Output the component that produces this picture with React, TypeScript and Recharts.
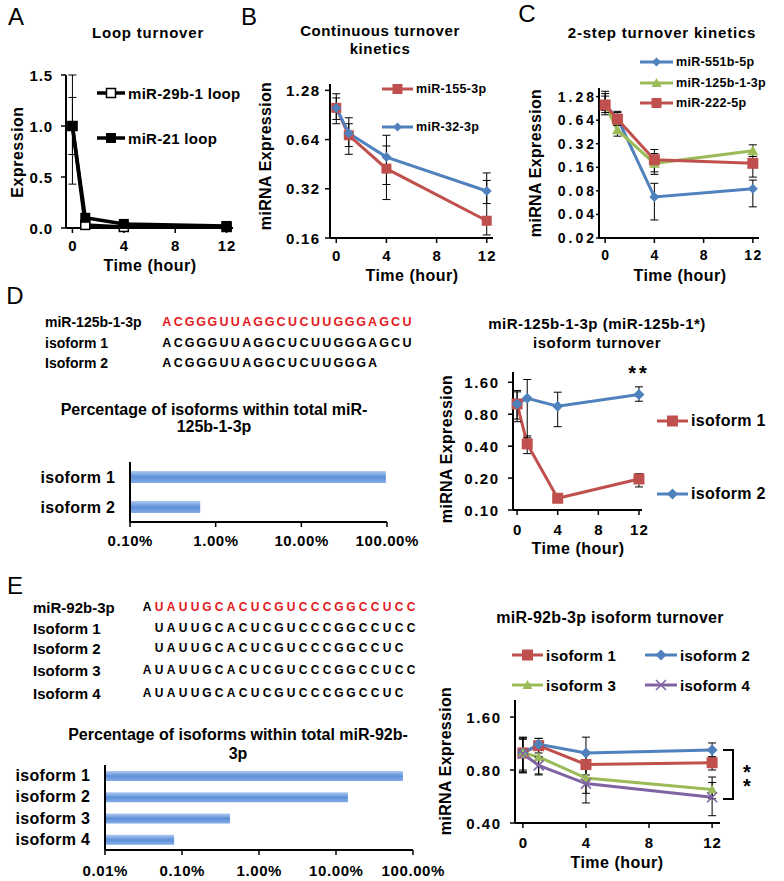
import React from 'react';
import { LineChart, Line, XAxis, YAxis, ErrorBar, BarChart, Bar } from 'recharts';

const FONT = '"Liberation Sans", Arial, Helvetica, sans-serif';
const RED = '#C0504D';
const BLUE = '#4F81BD';
const GREEN = '#9BBB59';
const PURPLE = '#8064A2';
const SEQ_RED = '#E3191C';

const TIME_H = [0, 1, 4, 12];
const TIME_TICKS = [0, 4, 8, 12];

// Panel A
const A_Y_TICKS = [0, 0.5, 1.0, 1.5];
const A_29B = [1.0, 0.03, 0.01, 0.01];
const A_29B_LO = [0.72, 0.01, 0.0, 0.0];
const A_29B_HI = [1.28, 0.05, 0.02, 0.02];
const A_21 = [1.0, 0.1, 0.04, 0.02];
const A_21_LO = [0.43, 0.07, 0.03, 0.01];
const A_21_HI = [1.5, 0.13, 0.05, 0.03];

// Panel B
const B_Y_TICKS = [0.16, 0.32, 0.64, 1.28];
const B_155 = [1.0, 0.68, 0.425, 0.204];
const B_155_LO = [0.8, 0.52, 0.275, 0.167];
const B_155_HI = [1.15, 0.8, 0.585, 0.36];
const B_32 = [1.0, 0.7, 0.5, 0.31];
const B_32_LO = [0.85, 0.58, 0.34, 0.26];
const B_32_HI = [1.22, 0.87, 0.68, 0.4];

// Panel C
const C_Y_TICKS = [0.02, 0.04, 0.08, 0.16, 0.32, 0.64, 1.28];
const C_551 = [1.0, 0.68, 0.067, 0.085];
const C_551_LO = [0.75, 0.55, 0.034, 0.05];
const C_551_HI = [1.5, 0.83, 0.1, 0.11];
const C_125 = [1.0, 0.48, 0.18, 0.26];
const C_125_LO = [0.85, 0.4, 0.13, 0.22];
const C_125_HI = [1.3, 0.58, 0.24, 0.31];
const C_222 = [1.0, 0.66, 0.2, 0.18];
const C_222_LO = [0.8, 0.55, 0.14, 0.12];
const C_222_HI = [1.4, 0.8, 0.27, 0.22];

// Panel D line
const D_Y_TICKS = [0.1, 0.2, 0.4, 0.8, 1.6];
const D_ISO1 = [1.0, 0.42, 0.129, 0.196];
const D_ISO1_LO = [0.72, 0.34, 0.12, 0.165];
const D_ISO1_HI = [1.3, 0.5, 0.14, 0.22];
const D_ISO2 = [1.0, 1.13, 0.95, 1.23];
const D_ISO2_LO = [0.68, 0.48, 0.61, 1.06];
const D_ISO2_HI = [1.34, 1.7, 1.29, 1.45];

// Panel E line
const E_Y_TICKS = [0.4, 0.8, 1.6];
const E_ISO1 = [1.0, 1.1, 0.86, 0.88];
const E_ISO1_LO = [0.78, 0.95, 0.75, 0.8];
const E_ISO1_HI = [1.22, 1.21, 1.0, 0.95];
const E_ISO2 = [1.0, 1.12, 1.0, 1.04];
const E_ISO2_LO = [0.8, 1.0, 0.85, 0.95];
const E_ISO2_HI = [1.23, 1.21, 1.23, 1.14];
const E_ISO3 = [1.0, 0.95, 0.72, 0.62];
const E_ISO3_LO = [0.78, 0.76, 0.59, 0.55];
const E_ISO3_HI = [1.2, 1.1, 0.85, 0.73];
const E_ISO4 = [0.99, 0.85, 0.67, 0.56];
const E_ISO4_LO = [0.77, 0.75, 0.52, 0.44];
const E_ISO4_HI = [1.2, 0.95, 0.85, 0.68];

// Bars
const D_BAR_CATS = ['isoform 1', 'isoform 2'];
const D_BAR_PCT = [97, 0.66];
const D_BAR_TICKS = [0.1, 1, 10, 100];
const E_BAR_CATS = ['isoform 1', 'isoform 2', 'isoform 3', 'isoform 4'];
const E_BAR_PCT = [74, 14.3, 0.42, 0.079];
const E_BAR_TICKS = [0.01, 0.1, 1, 10, 100];

// Sequences
const D_SEQ_LABELS = ['miR-125b-1-3p', 'isoform 1', 'Isoform 2'];
const D_SEQS = ['ACGGGUUAGGCUCUUGGGAGCU', 'ACGGGUUAGGCUCUUGGGAGCU', 'ACGGGUUAGGCUCUUGGGA'];
const E_SEQ_LABELS = ['miR-92b-3p', 'Isoform 1', 'Isoform 2', 'Isoform 3', 'Isoform 4'];
const E_SEQS = [
  'AUAUUGCACUCGUCCCGGCCUCC',
  ' UAUUGCACUCGUCCCGGCCUCC',
  ' UAUUGCACUCGUCCCGGCCUC',
  'AUAUUGCACUCGUCCCGGCCUCC',
  'AUAUUGCACUCGUCCCGGCCUC',
];

type Series = {
  key: string; label: string; values: number[]; lo: number[]; hi: number[];
  color: string; marker: string; size: number; width: number;
};

function buildRows(series: Series[]) {
  return TIME_H.map((t, i) => {
    const row: any = { t };
    series.forEach((s) => {
      row[s.key] = s.values[i];
      row[s.key + 'Err'] = [s.values[i] - s.lo[i], s.hi[i] - s.values[i]];
    });
    return row;
  });
}

function Marker({ type, cx, cy, color, size }: any) {
  if (cx == null || cy == null) return null;
  const h = size / 2;
  switch (type) {
    case 'square':
      return <rect x={cx - h} y={cy - h} width={size} height={size} fill={color} />;
    case 'osquare':
      return <rect x={cx - h} y={cy - h} width={size} height={size} fill="#fff" stroke={color} strokeWidth={1.5} />;
    case 'diamond':
      return <polygon points={`${cx},${cy - h} ${cx + h},${cy} ${cx},${cy + h} ${cx - h},${cy}`} fill={color} />;
    case 'triangle':
      return <polygon points={`${cx},${cy - h} ${cx + h},${cy + h * 0.8} ${cx - h},${cy + h * 0.8}`} fill={color} />;
    case 'x':
      return (
        <g stroke={color} strokeWidth={1.6}>
          <line x1={cx - h} y1={cy - h} x2={cx + h} y2={cy + h} />
          <line x1={cx - h} y1={cy + h} x2={cx + h} y2={cy - h} />
        </g>
      );
    default:
      return null;
  }
}

const yTick = (fmt: (v: any) => string, fs: number, ls: number) => (p: any) => (
  <text x={p.x + ls} y={p.y} textAnchor="end" dominantBaseline="central" fontSize={fs} fontWeight="bold"
    fontFamily={FONT} letterSpacing={ls} fill="#000">{fmt(p.payload.value)}</text>
);
const xTick = (fmt: (v: any) => string, fs: number, ls: number) => (p: any) => (
  <text x={p.x + ls / 2} y={p.y} dy={fs * 0.72} textAnchor="middle" fontSize={fs} fontWeight="bold"
    fontFamily={FONT} letterSpacing={ls} fill="#000">{fmt(p.payload.value)}</text>
);
const noTick = () => <g />;

const AX = { stroke: '#000', strokeWidth: 2 };
const TL = { stroke: '#000', strokeWidth: 1.5 };

function TurnoverChart(props: any) {
  const { box, series, yScale, yDomain, yTicks, yFmt, xDomain, yGap, xGap, fs, ls, lsX, tickSize = 5 } = props;
  const YW = 70, MT = 14, MR = 14, XH = 40;
  const rows = buildRows(series);
  return (
    <div style={{ position: 'absolute', left: box.x - YW, top: box.y - MT }}>
      <LineChart width={YW + box.w + MR} height={MT + box.h + XH} data={rows}
        margin={{ top: MT, right: MR, left: 0, bottom: 0 }}>
        <XAxis type="number" dataKey="t" domain={xDomain} ticks={TIME_TICKS} interval={0} height={XH}
          axisLine={AX} tickLine={TL} tickSize={5} tickMargin={xGap - 5}
          tick={xTick((v) => String(v), fs, lsX)} />
        <YAxis type="number" scale={yScale} domain={yDomain} ticks={yTicks} interval={0} width={YW}
          axisLine={AX} tickLine={TL} tickSize={tickSize} tickMargin={yGap - tickSize}
          tick={yTick(yFmt, fs, ls)} />
        {series.map((s: Series) => (
          <Line key={s.key} type="linear" dataKey={s.key} stroke={s.color} strokeWidth={s.width}
            isAnimationActive={false} activeDot={false}
            dot={(p: any) => (
              <Marker key={`${s.key}-${p.index}`} type={s.marker} cx={p.cx} cy={p.cy} color={s.color} size={s.size} />
            )}>
            <ErrorBar dataKey={s.key + 'Err'} direction="y" width={4} stroke="#000" strokeWidth={1} />
          </Line>
        ))}
      </LineChart>
    </div>
  );
}

function PctBarChart(props: any) {
  const { box, cats, values, domain, ticks, barSize, labelGap, gradId, catFs, xGap } = props;
  const YW = 130, MT = 4, MR = 40, XH = 40;
  const rows = cats.map((c: string, i: number) => ({ name: c, pct: values[i] }));
  const bounds = Array.from({ length: cats.length + 1 }, (_, i) => i);
  return (
    <div style={{ position: 'absolute', left: box.x - YW, top: box.y - MT }}>
      <BarChart layout="vertical" width={YW + box.w + MR} height={MT + box.h + XH} data={rows}
        margin={{ top: MT, right: MR, left: 0, bottom: 0 }}>
        <defs>
          <linearGradient id={gradId} x1="0" y1="0" x2="0" y2="1">
            <stop offset="0%" stopColor="#AFCBF0" />
            <stop offset="50%" stopColor="#5E90DA" />
            <stop offset="100%" stopColor="#84ACE8" />
          </linearGradient>
        </defs>
        <XAxis type="number" scale="log" domain={domain} ticks={ticks} interval={0} height={XH}
          axisLine={AX} tickLine={TL} tickSize={5} tickMargin={xGap - 5}
          tick={xTick((v) => Number(v).toFixed(2) + '%', 15, 0.6)} />
        <YAxis type="category" dataKey="name" width={YW} axisLine={AX} tickLine={false} tickSize={0} interval={0}
          tickMargin={labelGap} tick={yTick((v) => String(v), catFs, 0.3)} />
        <YAxis yAxisId="bounds" type="number" domain={[0, cats.length]} ticks={bounds} interval={0} width={0}
          orientation="left" mirror axisLine={false} tickLine={TL} tickSize={-5} tick={noTick} />
        <Bar dataKey="pct" barSize={barSize} fill={`url(#${gradId})`} isAnimationActive={false} />
      </BarChart>
    </div>
  );
}

function Txt({ x, y, size = 15, bold = true, anchor = 'middle', rotate = 0, ls = 0, color = '#000', lh = 1, children }: any) {
  const tx = anchor === 'middle' ? '-50%' : anchor === 'end' ? '-100%' : '0';
  return (
    <div style={{
      position: 'absolute', left: x, top: y, whiteSpace: 'pre', lineHeight: lh, textAlign: 'center',
      transform: `translate(${tx},-50%)${rotate ? ` rotate(${rotate}deg)` : ''}`,
      fontSize: size, fontWeight: bold ? 'bold' : 'normal', fontFamily: FONT, letterSpacing: ls, color,
    }}>{children}</div>
  );
}

function LegendItem({ x, y, w, color, marker, msize, lw, label, fs }: any) {
  return (
    <div style={{ position: 'absolute', left: x, top: y, transform: 'translateY(-50%)', display: 'flex', alignItems: 'center', whiteSpace: 'nowrap' }}>
      <svg width={w} height={16} style={{ display: 'block', overflow: 'visible' }}>
        <line x1={0} y1={8} x2={w} y2={8} stroke={color} strokeWidth={lw} />
        <Marker type={marker} cx={w / 2} cy={8} color={color} size={msize} />
      </svg>
      <span style={{ marginLeft: 3, fontSize: fs, fontWeight: 'bold', fontFamily: FONT, lineHeight: 1, letterSpacing: 0.3 }}>{label}</span>
    </div>
  );
}

function Seq({ x, y, text, cell, size, redFrom, redAll }: any) {
  return (
    <div style={{ position: 'absolute', left: x, top: y, transform: 'translateY(-50%)', display: 'flex', fontFamily: FONT, fontSize: size, fontWeight: 'bold', lineHeight: 1 }}>
      {text.split('').map((c: string, i: number) => (
        <span key={i} style={{
          display: 'inline-block', width: cell, textAlign: 'center',
          color: redAll || (redFrom != null && i >= redFrom) ? SEQ_RED : '#000',
        }}>{c === ' ' ? '\u00a0' : c}</span>
      ))}
    </div>
  );
}

const fmt1 = (v: any) => Number(v).toFixed(1);
const fmt2 = (v: any) => Number(v).toFixed(2);

const A_SERIES: Series[] = [
  { key: 'l29b', label: 'miR-29b-1 loop', values: A_29B, lo: A_29B_LO, hi: A_29B_HI, color: '#000', marker: 'osquare', size: 9, width: 3.5 },
  { key: 'l21', label: 'miR-21 loop', values: A_21, lo: A_21_LO, hi: A_21_HI, color: '#000', marker: 'square', size: 10, width: 3.5 },
];
const B_SERIES: Series[] = [
  { key: 'm155', label: 'miR-155-3p', values: B_155, lo: B_155_LO, hi: B_155_HI, color: RED, marker: 'square', size: 10, width: 3 },
  { key: 'm32', label: 'miR-32-3p', values: B_32, lo: B_32_LO, hi: B_32_HI, color: BLUE, marker: 'diamond', size: 10, width: 3 },
];
const C_SERIES: Series[] = [
  { key: 'm551', label: 'miR-551b-5p', values: C_551, lo: C_551_LO, hi: C_551_HI, color: BLUE, marker: 'diamond', size: 10, width: 3 },
  { key: 'm125', label: 'miR-125b-1-3p', values: C_125, lo: C_125_LO, hi: C_125_HI, color: GREEN, marker: 'triangle', size: 11, width: 3 },
  { key: 'm222', label: 'miR-222-5p', values: C_222, lo: C_222_LO, hi: C_222_HI, color: RED, marker: 'square', size: 11, width: 3 },
];
const D_SERIES: Series[] = [
  { key: 'i1', label: 'isoform 1', values: D_ISO1, lo: D_ISO1_LO, hi: D_ISO1_HI, color: RED, marker: 'square', size: 11, width: 3 },
  { key: 'i2', label: 'isoform 2', values: D_ISO2, lo: D_ISO2_LO, hi: D_ISO2_HI, color: BLUE, marker: 'diamond', size: 11, width: 3 },
];
const E_SERIES: Series[] = [
  { key: 'i1', label: 'isoform 1', values: E_ISO1, lo: E_ISO1_LO, hi: E_ISO1_HI, color: RED, marker: 'square', size: 11, width: 3 },
  { key: 'i2', label: 'isoform 2', values: E_ISO2, lo: E_ISO2_LO, hi: E_ISO2_HI, color: BLUE, marker: 'diamond', size: 11, width: 3 },
  { key: 'i3', label: 'isoform 3', values: E_ISO3, lo: E_ISO3_LO, hi: E_ISO3_HI, color: GREEN, marker: 'triangle', size: 10, width: 3 },
  { key: 'i4', label: 'isoform 4', values: E_ISO4, lo: E_ISO4_LO, hi: E_ISO4_HI, color: PURPLE, marker: 'x', size: 10, width: 3 },
];

export default function App() {
  return (
    <div style={{ position: 'absolute', left: 0, top: 0, width: 784, height: 881, background: '#fff', overflow: 'hidden', fontFamily: FONT }}>
      {/* Panel letters */}
      <Txt x={16} y={17} size={24} bold={false}>A</Txt>
      <Txt x={249} y={17} size={24} bold={false}>B</Txt>
      <Txt x={527} y={14} size={24} bold={false}>C</Txt>
      <Txt x={15} y={296} size={24} bold={false}>D</Txt>
      <Txt x={15} y={586} size={24} bold={false}>E</Txt>

      {/* Panel A */}
      <Txt x={148} y={32} size={15} ls={0.8}>Loop turnover</Txt>
      <TurnoverChart box={{ x: 66, y: 75, w: 167, h: 153 }} series={A_SERIES} yScale="linear" yDomain={[0, 1.5]}
        yTicks={A_Y_TICKS} yFmt={fmt1} xDomain={[-0.5, 12.5]} yGap={14} xGap={12} fs={15} ls={0.8} lsX={0.8} />
      <Txt x={18} y={152} size={16} rotate={-90} ls={0.5}>Expression</Txt>
      <Txt x={150} y={266} size={16} ls={0.5}>Time (hour)</Txt>
      <LegendItem x={97} y={93} w={28} color="#000" marker="osquare" msize={9} lw={3.5} label={A_SERIES[0].label} fs={15} />
      <LegendItem x={97} y={138} w={28} color="#000" marker="square" msize={10} lw={3.5} label={A_SERIES[1].label} fs={15} />

      {/* Panel B */}
      <Txt x={380} y={30} size={15} ls={0.6}>Continuous turnover</Txt>
      <Txt x={380} y={48} size={15} ls={0.6}>kinetics</Txt>
      <TurnoverChart box={{ x: 330, y: 84, w: 163, h: 154 }} series={B_SERIES} yScale="log" yDomain={[0.16, 1.4]}
        yTicks={B_Y_TICKS} yFmt={fmt2} xDomain={[-0.5, 12.5]} yGap={11} xGap={12} fs={15} ls={1.3} lsX={1.3} />
      <Txt x={266} y={156} size={16} rotate={-90} ls={0.3}>miRNA Expression</Txt>
      <Txt x={412} y={276} size={16} ls={0.5}>Time (hour)</Txt>
      <LegendItem x={382} y={89} w={31} color={RED} marker="square" msize={10} lw={3} label={B_SERIES[0].label} fs={12.5} />
      <LegendItem x={382} y={127} w={31} color={BLUE} marker="diamond" msize={9} lw={3} label={B_SERIES[1].label} fs={12.5} />

      {/* Panel C */}
      <Txt x={662} y={32} size={15} ls={0.8}>2-step turnover kinetics</Txt>
      <TurnoverChart box={{ x: 599, y: 88, w: 160, h: 150 }} series={C_SERIES} yScale="log" yDomain={[0.02, 1.65]}
        yTicks={C_Y_TICKS} yFmt={fmt2} xDomain={[-0.5, 12.5]} yGap={5} tickSize={3} xGap={12} fs={14} ls={3} lsX={1.5} />
      <Txt x={536} y={163} size={16} rotate={-90} ls={0.3}>miRNA Expression</Txt>
      <Txt x={680} y={276} size={16} ls={0.5}>Time (hour)</Txt>
      <LegendItem x={640} y={62} w={33} color={BLUE} marker="diamond" msize={9} lw={3} label={C_SERIES[0].label} fs={12.5} />
      <LegendItem x={640} y={83} w={33} color={GREEN} marker="triangle" msize={10} lw={3} label={C_SERIES[1].label} fs={12.5} />
      <LegendItem x={640} y={103} w={33} color={RED} marker="square" msize={10} lw={3} label={C_SERIES[2].label} fs={12.5} />

      {/* Panel D sequences */}
      {D_SEQ_LABELS.map((l, i) => (
        <Txt key={'dl' + i} x={45} y={[322, 343, 363][i]} size={14} anchor="start">{l}</Txt>
      ))}
      {D_SEQS.map((s, i) => (
        <Seq key={'ds' + i} x={161} y={[322, 343, 363][i]} text={s} cell={11.45} size={12.5} redAll={i === 0} />
      ))}

      {/* Panel D bars */}
      <Txt x={214} y={410} size={16}>Percentage of isoforms within total miR-</Txt>
      <Txt x={214} y={427} size={16}>125b-1-3p</Txt>
      <PctBarChart box={{ x: 130, y: 462, w: 257, h: 60 }} cats={D_BAR_CATS} values={D_BAR_PCT} domain={[0.1, 100]}
        ticks={D_BAR_TICKS} barSize={12} labelGap={15} gradId="gradD" catFs={16} xGap={13} />

      {/* Panel D line */}
      <Txt x={597} y={323} size={15} ls={0.5}>miR-125b-1-3p (miR-125b-1*)</Txt>
      <Txt x={597} y={342} size={15} ls={0.5}>isoform turnover</Txt>
      <Txt x={639} y={373} size={20} ls={3}>**</Txt>
      <TurnoverChart box={{ x: 513, y: 372, w: 129, h: 138 }} series={D_SERIES} yScale="log" yDomain={[0.1, 2.0]}
        yTicks={D_Y_TICKS} yFmt={fmt2} xDomain={[-0.4, 12.3]} yGap={15} xGap={14} fs={15} ls={1.5} lsX={1} />
      <Txt x={447} y={449} size={16} rotate={-90} ls={0.3}>miRNA Expression</Txt>
      <Txt x={578} y={549} size={16} ls={0.5}>Time (hour)</Txt>
      <LegendItem x={657} y={421} w={31} color={RED} marker="square" msize={11} lw={3} label={D_SERIES[0].label} fs={16} />
      <LegendItem x={657} y={494} w={31} color={BLUE} marker="diamond" msize={11} lw={3} label={D_SERIES[1].label} fs={16} />

      {/* Panel E sequences */}
      {E_SEQ_LABELS.map((l, i) => (
        <Txt key={'el' + i} x={33} y={[607, 628, 648, 670, 693][i]} size={15} anchor="start">{l}</Txt>
      ))}
      {E_SEQS.map((s, i) => (
        <Seq key={'es' + i} x={141} y={[607, 628, 648, 670, 693][i]} text={s} cell={12} size={12} redFrom={i === 0 ? 1 : null} />
      ))}

      {/* Panel E bars */}
      <Txt x={238} y={735} size={16}>Percentage of isoforms within total miR-92b-</Txt>
      <Txt x={238} y={754} size={16}>3p</Txt>
      <PctBarChart box={{ x: 105, y: 765, w: 308, h: 85 }} cats={E_BAR_CATS} values={E_BAR_PCT} domain={[0.01, 100]}
        ticks={E_BAR_TICKS} barSize={10} labelGap={15} gradId="gradE" catFs={16} xGap={15} />

      {/* Panel E line */}
      <Txt x={610} y={618} size={16} ls={0.3}>miR-92b-3p isoform turnover</Txt>
      <TurnoverChart box={{ x: 515, y: 700, w: 205, h: 123 }} series={E_SERIES} yScale="log" yDomain={[0.4, 2.0]}
        yTicks={E_Y_TICKS} yFmt={fmt2} xDomain={[-0.5, 12.5]} yGap={15} xGap={14} fs={15} ls={1.5} lsX={1} />
      <Txt x={446} y={761} size={16} rotate={-90} ls={0.3}>miRNA Expression</Txt>
      <Txt x={617} y={863} size={16} ls={0.5}>Time (hour)</Txt>
      <LegendItem x={512} y={655} w={31} color={RED} marker="square" msize={11} lw={3} label={E_SERIES[0].label} fs={15} />
      <LegendItem x={645} y={655} w={32} color={BLUE} marker="diamond" msize={11} lw={3} label={E_SERIES[1].label} fs={15} />
      <LegendItem x={512} y={685} w={31} color={GREEN} marker="triangle" msize={10} lw={3} label={E_SERIES[2].label} fs={15} />
      <LegendItem x={645} y={685} w={32} color={PURPLE} marker="x" msize={10} lw={3} label={E_SERIES[3].label} fs={15} />
      <div style={{ position: 'absolute', left: 723, top: 749, width: 11, height: 51, boxSizing: 'border-box', borderTop: '2.5px solid #000', borderRight: '2.5px solid #000', borderBottom: '2.5px solid #000' }} />
      <Txt x={747} y={779} size={20} lh="14px">{'*\n*'}</Txt>
    </div>
  );
}
